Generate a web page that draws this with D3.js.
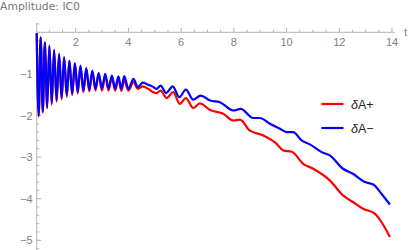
<!DOCTYPE html>
<html><head><meta charset="utf-8">
<script src="https://cdn.jsdelivr.net/npm/d3@7/dist/d3.min.js"></script>
<style>body{margin:0;background:#fff}svg{display:block}</style>
</head><body>
<script>
// ---- data ----
const tEarly = [0.52,0.595,0.67,0.75,0.83,0.915,1.00,1.09,1.18,1.275,1.37,1.465,1.56,1.66,1.76,1.865,1.97,2.075,2.18,2.29,2.40,2.515,2.63,2.75,2.87,2.995,3.12,3.245,3.37,3.495,3.62,3.73,3.84,4.00,4.19,4.36,4.54];
const blueEarly = [-0.02,-2.0,-0.12,-1.9,-0.24,-1.8,-0.32,-1.7,-0.42,-1.63,-0.52,-1.57,-0.60,-1.51,-0.68,-1.47,-0.74,-1.43,-0.80,-1.40,-0.86,-1.38,-0.92,-1.36,-0.98,-1.35,-1.00,-1.35,-1.04,-1.35,-1.06,-1.36,-1.05,-1.36,-1.12,-1.32,-1.21];
const redEarly = [-0.02,-2.02,-0.12,-1.93,-0.24,-1.83,-0.33,-1.74,-0.43,-1.67,-0.53,-1.61,-0.61,-1.55,-0.70,-1.51,-0.76,-1.47,-0.82,-1.44,-0.89,-1.42,-0.95,-1.40,-1.01,-1.40,-1.05,-1.40,-1.09,-1.40,-1.12,-1.41,-1.16,-1.40,-1.20,-1.36,-1.30];
const tBlueLate = [4.75,4.90,5.07,5.22,5.43,5.68,5.93,6.18,6.46,6.74,7.10,7.47,7.98,8.26,8.74,8.99,9.37,9.75,10.0,10.25,10.57,10.9,11.33,11.64,12.14,12.52,12.97,13.29,13.6,13.92];
const blueLate = [-1.26,-1.30,-1.36,-1.28,-1.46,-1.30,-1.56,-1.38,-1.62,-1.52,-1.64,-1.68,-1.88,-1.84,-2.06,-2.06,-2.2,-2.32,-2.4,-2.4,-2.6,-2.7,-2.88,-2.96,-3.28,-3.4,-3.6,-3.66,-3.88,-4.14];
const tRedLate = [4.75,4.94,5.07,5.22,5.45,5.70,5.95,6.18,6.46,6.71,7.10,7.60,7.98,8.23,8.60,9.12,9.45,9.62,9.88,10.2,10.63,11.01,11.64,12.14,12.52,12.9,13.35,13.6,13.92];
const redLate = [-1.36,-1.44,-1.46,-1.40,-1.58,-1.44,-1.72,-1.58,-1.82,-1.71,-1.87,-1.96,-2.12,-2.10,-2.36,-2.48,-2.6,-2.68,-2.84,-2.87,-3.16,-3.28,-3.56,-3.92,-4.08,-4.24,-4.36,-4.56,-4.92];
const xMajor = [2,4,6,8,10,12,14];
const yMajor = [-1,-2,-3,-4,-5];
const seriesNames = ["\u03B4A+","\u03B4A\u2212"];
const seriesColors = ["#ff0000","#0000ff"];
const titleText = "Amplitude: IC0";
const xLabel = "t";

// ---- drawing ----
const W = 411, H = 250;
const svg = d3.select("body").append("svg").attr("width", W).attr("height", H);
const x = d3.scaleLinear().domain([0, 14]).range([23, 392]);
const y = d3.scaleLinear().domain([0, -5]).range([32.3, 240.3]);
const axisColor = "#b5b5b5", labelColor = "#808080";
const x0 = x(0.52), y0 = y(0);

// axes
svg.append("line").attr("x1", x0).attr("x2", 395).attr("y1", y0).attr("y2", y0)
  .attr("stroke", axisColor).attr("stroke-width", 1);
svg.append("line").attr("x1", x0).attr("x2", x0).attr("y1", y(0.22)).attr("y2", y(-5.25))
  .attr("stroke", axisColor).attr("stroke-width", 1);

const xMinor = d3.range(1, 14.01, 0.5).filter(v => !xMajor.includes(v));
svg.selectAll(".xmin").data(xMinor).join("line")
  .attr("x1", d => x(d)).attr("x2", d => x(d)).attr("y1", y0).attr("y2", y0 - 2.5)
  .attr("stroke", axisColor);
svg.selectAll(".xmaj").data(xMajor).join("line")
  .attr("x1", d => x(d)).attr("x2", d => x(d)).attr("y1", y0).attr("y2", y0 - 4.5)
  .attr("stroke", axisColor);
svg.selectAll(".xlab").data(xMajor).join("text")
  .attr("x", d => x(d)).attr("y", y0 + 14).attr("text-anchor", "middle")
  .attr("font-family", "Liberation Sans, Arial, sans-serif").attr("font-size", 11)
  .attr("fill", labelColor).text(d => d);

const yMinor = d3.range(-26, 2).map(k => k * 0.2).filter(v => !yMajor.some(m => Math.abs(m - v) < 1e-6) && Math.abs(v) > 1e-6);
svg.selectAll(".ymin").data(yMinor).join("line")
  .attr("x1", x0).attr("x2", x0 + 2.5).attr("y1", d => y(d)).attr("y2", d => y(d))
  .attr("stroke", axisColor);
svg.selectAll(".ymaj").data(yMajor).join("line")
  .attr("x1", x0).attr("x2", x0 + 4.5).attr("y1", d => y(d)).attr("y2", d => y(d))
  .attr("stroke", axisColor);
svg.selectAll(".ylab").data(yMajor).join("text")
  .attr("x", x0 - 4).attr("y", d => y(d) + 4).attr("text-anchor", "end")
  .attr("font-family", "Liberation Sans, Arial, sans-serif").attr("font-size", 11)
  .attr("fill", labelColor).text(d => "\u2212" + Math.abs(d));

svg.append("text").attr("x", 404).attr("y", y0 + 4).attr("font-family", "Liberation Sans, Arial, sans-serif")
  .attr("font-size", 11).attr("fill", labelColor).text(xLabel);

svg.append("text").attr("x", 0).attr("y", 10).attr("font-family", "DejaVu Sans, sans-serif")
  .attr("font-size", 10.8).attr("fill", "#777").text(titleText);

// curves
const redPts = tEarly.map((t, i) => [t, redEarly[i]]).concat(tRedLate.map((t, i) => [t, redLate[i]]));
const bluePts = tEarly.map((t, i) => [t, blueEarly[i]]).concat(tBlueLate.map((t, i) => [t, blueLate[i]]));
const line = d3.line().x(d => x(d[0])).y(d => y(d[1])).curve(d3.curveMonotoneX);
[redPts, bluePts].forEach((pts, i) => {
  svg.append("path").attr("d", line(pts)).attr("fill", "none")
    .attr("stroke", seriesColors[i]).attr("stroke-width", 2.2).attr("stroke-linejoin", "round");
});

// legend
const lg = svg.append("g");
seriesNames.forEach((name, i) => {
  const ly = 104 + i * 24;
  lg.append("line").attr("x1", 321.5).attr("x2", 343.5).attr("y1", ly).attr("y2", ly)
    .attr("stroke", seriesColors[i]).attr("stroke-width", 2.2);
  const tx = lg.append("text").attr("x", 351).attr("y", ly + 4.5)
    .attr("font-family", "Liberation Sans, Arial, sans-serif").attr("font-size", 12.5).attr("fill", "#222");
  tx.append("tspan").attr("font-style", "italic").text(name.slice(0, 1));
  tx.append("tspan").text(name.slice(1));
});
</script>
</body></html>
